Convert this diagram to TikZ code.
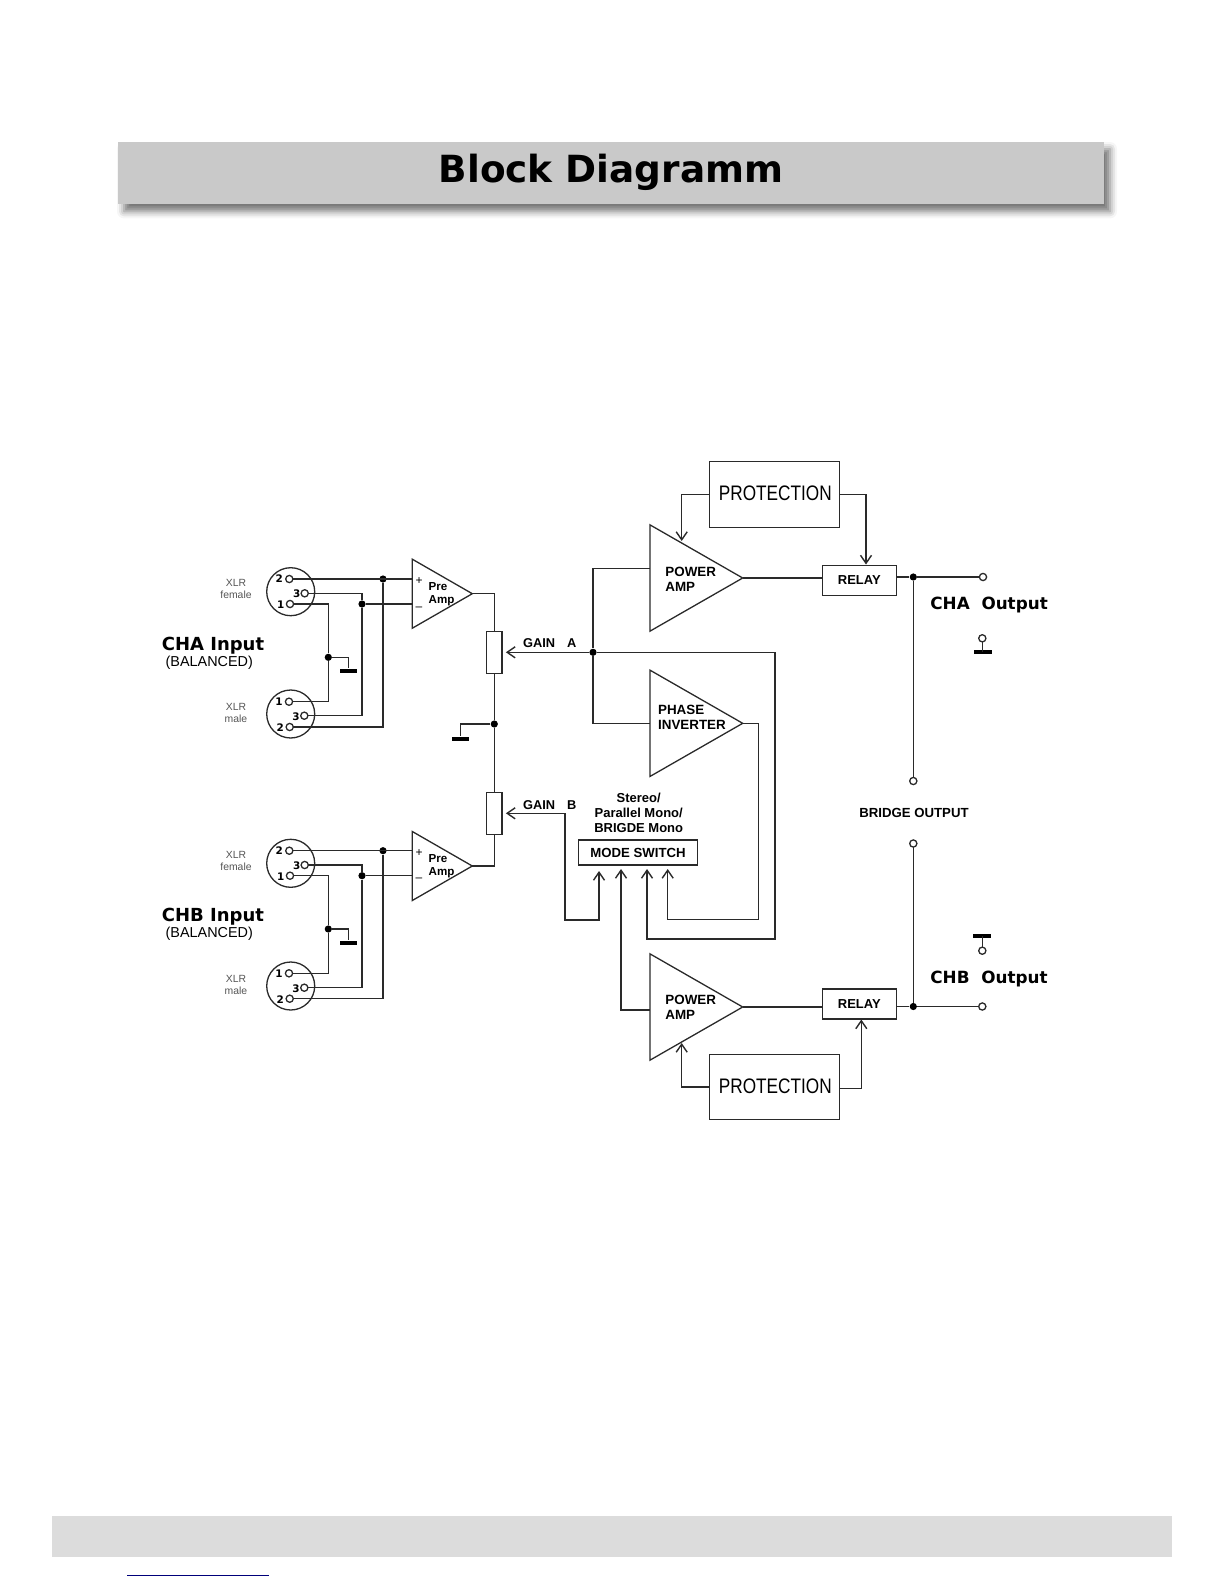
\documentclass[tikz,border=0pt]{standalone}
\usepackage{fontspec}
\usepackage{xcolor}
\usepackage{tikz}
\usetikzlibrary{arrows.meta,shapes.geometric,shadows.blur}
\setmainfont{Liberation Sans}
\newfontfamily\widefont{DejaVu Sans}
\definecolor{ink}{HTML}{2A2A2A}
\definecolor{banner}{HTML}{C9C9C9}
\definecolor{footer}{HTML}{DCDCDC}
\definecolor{rule}{HTML}{00007A}

\begin{document}
\begin{tikzpicture}[x=0.5pt,y=-0.5pt,font=\footnotesize,>={Straight Barb[length=4pt,width=5.5pt]}]
\tikzset{wire/.style={draw=ink,line width=0.65pt},
  arr/.style={wire,->,line width=0.7pt},
  part/.style={draw=ink,line width=0.65pt,inner sep=0pt,outer sep=0pt,text=black},
  ampl/.style={part,isosceles triangle,isosceles triangle stretches,anchor=apex},
  preamp/.style={ampl,minimum width=34.5pt,minimum height=30pt},
  pwramp/.style={ampl,minimum width=53.2pt,minimum height=46.4pt},
  prot/.style={part,minimum width=65pt,minimum height=32.8pt},
  relay/.style={part,minimum width=37pt,minimum height=15pt,font=\fontsize{6.5}{7}\selectfont\bfseries},
  potm/.style={part,minimum width=7.6pt,minimum height=21pt},
  shell/.style={part,circle,minimum size=24pt},
  contact/.style={part,circle,fill=white,minimum size=3.6pt},
  junc/.style={circle,fill=black,inner sep=0pt,minimum size=3.6pt},
  earth/.style={fill=black,inner sep=0pt,minimum width=8.6pt,minimum height=2pt},
  txt/.style={inner sep=0pt,text=black,align=left},
  numb/.style={txt,font=\widefont\fontsize{5.2}{5.5}\selectfont\bfseries},
  xlr/.style={txt,align=center,text=ink!80,font=\fontsize{5.2}{6}\selectfont},
  bld/.style={txt,font=\fontsize{6.7}{7.4}\selectfont\bfseries},
  small/.style={txt,font=\fontsize{5.8}{6.7}\selectfont\bfseries},
  chan/.style={txt,font=\widefont\fontsize{9}{10}\selectfont\bfseries},
  outp/.style={txt,font=\widefont\fontsize{8.4}{10}\selectfont\bfseries},
  balan/.style={txt,font=\fontsize{7.2}{8}\selectfont},
  prottxt/.style={txt,font=\fontsize{10.5}{12}\selectfont}}
\useasboundingbox (0,0) rectangle (1224,1584);
% page furniture
\node[fill=banner,minimum width=493pt,minimum height=31.2pt,inner sep=0pt,
  blur shadow={shadow xshift=3pt,shadow yshift=-3.6pt,shadow blur radius=3.5pt,shadow opacity=55}] (banner) at (611,173) {};
\node[inner sep=0pt,text=black,font=\widefont\fontsize{18.7}{20}\selectfont\bfseries] (title) at (611,172) {Block Diagramm};
\fill[footer] (52.3,1515.7) rectangle (1171.7,1557);
\draw[rule,line width=0.6pt] (127.2,1575.3)--(269.3,1575.3);
% amplifiers
\node[preamp] (prea) at (472.3,593.7) {};
\node[preamp] (preb) at (472.3,866) {};
\node[pwramp] (pwra) at (742.7,578) {};
\node[pwramp] (phase) at (742.7,723.3) {};
\node[pwramp] (pwrb) at (742.7,1007) {};
\node[small,anchor=west] (pretxta) at (428.3,594.5) {Pre\\Amp};
\node[small,anchor=west] (pretxtb) at (428.3,866) {Pre\\Amp};
\node[txt,font=\fontsize{6}{6}\selectfont] (plusa) at (419,581) {+};
\node[txt,font=\fontsize{6}{6}\selectfont] (minusa) at (419,608.3) {--};
\node[txt,font=\fontsize{6}{6}\selectfont] (plusb) at (419,853) {+};
\node[txt,font=\fontsize{6}{6}\selectfont] (minusb) at (419,880) {--};
\node[bld,anchor=west] (pwrtxta) at (665,579.5) {POWER\\AMP};
\node[bld,anchor=west] (phasetxt) at (657.7,717.5) {PHASE\\INVERTER};
\node[bld,anchor=west] (pwrtxtb) at (665,1007.5) {POWER\\AMP};
% blocks
\node[prot] (prota) at (774.3,494.5) {};
\node[prot] (protb) at (774.3,1087) {};
\node[prottxt] (prottxta) at (775.3,493.3) {\scalebox{0.82}[1]{PROTECTION}};
\node[prottxt] (prottxtb) at (775.3,1086.7) {\scalebox{0.82}[1]{PROTECTION}};
\node[relay] (rela) at (859.3,580.3) {RELAY};
\node[relay] (relb) at (859.3,1004) {RELAY};
\node[part,minimum width=59.7pt,minimum height=12.5pt,font=\fontsize{6.6}{7}\selectfont\bfseries] (mode) at (638,852.5) {MODE SWITCH};
\node[txt,align=center,font=\fontsize{6.5}{7.4}\selectfont\bfseries] (modetxt) at (638.7,812.8) {Stereo/\\Parallel Mono/\\BRIGDE Mono};
\node[potm] (pota) at (494.3,652.3) {};
\node[potm] (potb) at (494.3,813.3) {};
\node[txt,anchor=west,font=\fontsize{6.4}{7}\selectfont\bfseries] (gaina) at (522.7,643.5) {GAIN\hspace{6pt}A};
\node[txt,anchor=west,font=\fontsize{6.4}{7}\selectfont\bfseries] (gainb) at (522.7,804.7) {GAIN\hspace{6pt}B};
% CHA connectors
\node[shell] (fema) at (290.7,591.7) {};
\node[shell] (mala) at (290.7,714) {};
\node[contact] (f2a) at (289.3,579) {};
\node[contact] (f3a) at (304.7,593.3) {};
\node[contact] (f1a) at (290,604) {};
\node[contact] (m1a) at (289,701.7) {};
\node[contact] (m3a) at (304.3,715.7) {};
\node[contact] (m2a) at (289.7,727) {};
\node[numb] (nf2a) at (279.3,579) {2};
\node[numb] (nf3a) at (296.7,593.3) {3};
\node[numb] (nf1a) at (280.7,605) {1};
\node[numb] (nm1a) at (279,702) {1};
\node[numb] (nm3a) at (296,716.3) {3};
\node[numb] (nm2a) at (280.3,728) {2};
\node[xlr] (xlrfa) at (236,589) {XLR\\female};
\node[xlr] (xlrma) at (236,713) {XLR\\male};
\node[chan] (cha) at (213,645.3) {CHA Input};
\node[balan] (bala) at (209.3,662.3) {(BALANCED)};
\node[junc] (j2a) at (383,579) {};
\node[junc] (j3a) at (362,604) {};
\node[junc] (j1a) at (328.3,657.3) {};
\node[earth] (gnda) at (348.5,670.5) {};
\draw[wire] (f2a)--(f2a -| prea.lower side);
\draw[wire] (j3a)--(j3a -| prea.lower side);
\draw[wire] (m2a) -| (j2a);
\draw[wire] (f3a) -| (j3a) |- (m3a);
\draw[wire] (f1a) -| (j1a) |- (m1a);
\draw[wire] (j1a) -| (gnda);
% CHB connectors
\node[shell] (femb) at (290.7,863.3) {};
\node[shell] (malb) at (290.7,986) {};
\node[contact] (f2b) at (289.3,850.7) {};
\node[contact] (f3b) at (304.7,865) {};
\node[contact] (f1b) at (290,875.7) {};
\node[contact] (m1b) at (289,973.3) {};
\node[contact] (m3b) at (304.3,987.7) {};
\node[contact] (m2b) at (289.7,998.7) {};
\node[numb] (nf2b) at (279.3,851) {2};
\node[numb] (nf3b) at (296.7,865.7) {3};
\node[numb] (nf1b) at (280.7,876.7) {1};
\node[numb] (nm1b) at (279,973.7) {1};
\node[numb] (nm3b) at (296,988.3) {3};
\node[numb] (nm2b) at (280.3,999.7) {2};
\node[xlr] (xlrfb) at (236,860.7) {XLR\\female};
\node[xlr] (xlrmb) at (236,985) {XLR\\male};
\node[chan] (chb) at (213,917) {CHB Input};
\node[balan] (balb) at (209.3,934) {(BALANCED)};
\node[junc] (j2b) at (383,850.7) {};
\node[junc] (j3b) at (362,875.7) {};
\node[junc] (j1b) at (328.3,929) {};
\node[earth] (gndb) at (348.5,942.5) {};
\draw[wire] (f2b)--(f2b -| preb.lower side);
\draw[wire] (j3b)--(j3b -| preb.lower side);
\draw[wire] (m2b) -| (j2b);
\draw[wire] (f3b) -| (j3b) |- (m3b);
\draw[wire] (f1b) -| (j1b) |- (m1b);
\draw[wire] (j1b) -| (gndb);
% gain pots
\node[junc] (jmid) at (494.3,724) {};
\node[earth] (gndm) at (460.7,738.5) {};
\draw[wire] (prea.apex) -| (pota);
\draw[wire] (preb.apex) -| (potb);
\draw[wire] (pota)--(jmid)--(potb);
\draw[wire] (jmid) -| (gndm);
% signal paths
\node[junc] (jsig) at (593,652.3) {};
\coordinate (ina) at (650,568.7);
\coordinate (inb) at (650,1010);
\coordinate (m1) at (599,871);
\coordinate (m2) at (621,869);
\coordinate (m3) at (647,869);
\coordinate (m4) at (667.7,869);
\coordinate (bend1) at (565,920);
\coordinate (bend2) at (775,939);
\coordinate (bend3) at (758.7,919.7);
\draw[wire] (ina) -| (jsig) |- (phase.lower side);
\draw[arr,shorten >=2pt] (jsig)--(pota);
\draw[arr,<->,shorten <=2pt] (potb.east) -| (bend1) -| (m1);
\draw[arr] (jsig) -| (bend2) -| (m3);
\draw[arr] (phase.apex) -| (bend3) -| (m4);
\draw[arr] (inb) -| (m2);
% protection and outputs
\coordinate (tipa) at (681.7,541);
\coordinate (tipb) at (681.7,1043);
\coordinate (exita) at (839.3,494.7);
\coordinate (exitb) at (839.3,1088.3);
\coordinate (toprl) at (866,564.5);
\coordinate (botrl) at (861.3,1019.5);
\node[junc] (joa) at (913.3,577) {};
\node[junc] (job) at (913.3,1006.5) {};
\node[contact] (outa) at (983,577) {};
\node[contact] (outb) at (982.3,1006.5) {};
\node[contact] (bra) at (913.3,781) {};
\node[contact] (brb) at (913.3,843.5) {};
\node[contact] (oga) at (982.3,638.3) {};
\node[contact] (ogb) at (982.3,950.7) {};
\node[earth] (gnda2) at (983,652) {};
\node[earth] (gndb2) at (982,936) {};
\node[outp,anchor=west] (outtxta) at (930,605) {CHA\ \ Output};
\node[outp,anchor=west] (outtxtb) at (930,978.7) {CHB\ \ Output};
\node[txt,font=\fontsize{6.6}{7}\selectfont\bfseries] (bridge) at (914,812.5) {BRIDGE OUTPUT};
\draw[arr] (prota.west |- exita) -| (tipa);
\draw[arr] (exita) -| (toprl);
\draw[arr] (protb.west) -| (tipb);
\draw[arr] (exitb) -| (botrl);
\draw[wire] (pwra.apex)--(pwra.apex -| rela.west);
\draw[wire] (pwrb.apex)--(pwrb.apex -| relb.west);
\draw[wire] (joa -| rela.east)--(joa)--(outa);
\draw[wire] (job -| relb.east)--(job)--(outb);
\draw[wire] (joa)--(bra);
\draw[wire] (brb)--(job);
\draw[wire] (oga)--(oga |- gnda2);
\draw[wire] (ogb)--(ogb |- gndb2);
\end{tikzpicture}
\end{document}
